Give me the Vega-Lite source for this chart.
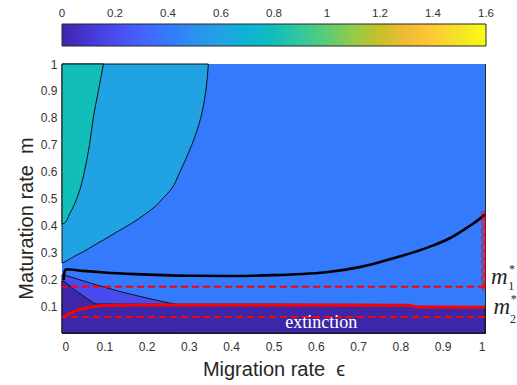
{
"$schema": "https://vega.github.io/schema/vega-lite/v6.json",
"width": 423, "height": 269,
"autosize": {"type": "none"},
"padding": {"left": 62, "top": 64, "right": 32, "bottom": 52},
"background": "white",
"config": {
  "view": {"stroke": "#262626", "strokeWidth": 1},
  "axis": {"domainColor": "#262626", "domainWidth": 1, "tickColor": "#262626", "tickWidth": 1, "tickSize": -4,
           "labelColor": "#333333", "labelFont": "Liberation Sans", "labelFontSize": 12,
           "titleFont": "Liberation Sans", "titleFontSize": 20, "titleFontWeight": "normal", "titleColor": "#262626", "grid": false}
},
"resolve": {"axis": {"x": "independent", "y": "independent"}},
"layer": [
  {
    "data": {"values": [{"x": 0, "x2": 1, "y": 0, "y2": 1, "level": 0.4}]},
    "mark": {"type": "rect"},
    "encoding": {
      "x": {"field": "x", "type": "quantitative", "scale": {"domain": [0, 1], "nice": false, "zero": false},
            "axis": {"orient": "bottom", "values": [0, 0.1, 0.2, 0.3, 0.4, 0.5, 0.6, 0.7, 0.8, 0.9, 1], "format": "~g",
                     "title": "Migration rate\u00a0 ϵ", "labelPadding": 12, "titlePadding": 7}},
      "x2": {"field": "x2"},
      "y": {"field": "y", "type": "quantitative", "scale": {"domain": [0, 1], "nice": false, "zero": false},
            "axis": {"orient": "left", "values": [0.1, 0.2, 0.3, 0.4, 0.5, 0.6, 0.7, 0.8, 0.9, 1], "format": "~g",
                     "title": "Maturation rate\u00a0 m", "labelPadding": 9, "titlePadding": 4, "titleY": 154}},
      "y2": {"field": "y2"},
      "color": {"field": "level", "type": "quantitative",
                "scale": {"type": "linear", "interpolate": "rgb",
                          "domain": [0, 0.1, 0.2, 0.3, 0.4, 0.5, 0.6, 0.7, 0.8, 0.9, 1, 1.1, 1.2, 1.3, 1.4, 1.5, 1.6],
                          "range": ["#3E26A8", "#4537D5", "#484CEF", "#4562FC", "#347AFD", "#2C90F0", "#21A3E3", "#0CB3D3", "#12BEB9", "#34C79C", "#5CCC76", "#94CA4A", "#C8C129", "#F1BA37", "#FECA33", "#F5E327", "#F9FB15"]},
                "legend": {"orient": "none", "legendX": 0, "legendY": -40, "direction": "horizontal",
                           "gradientLength": 424, "gradientThickness": 22, "title": null,
                           "values": [0, 0.2, 0.4, 0.6, 0.8, 1, 1.2, 1.4, 1.6], "format": "~g",
                           "labelFont": "Liberation Sans", "labelFontSize": 11.5, "labelColor": "#333333",
                           "labelOffset": -38, "labelOverlap": false,
                           "gradientStrokeColor": "#262626", "gradientStrokeWidth": 1,
                           "encode": {"labels": {"update": {"align": {"value": "center"}}}}}}
    }
  },
  {
    "data": {"values": [
      {"y": 0.26, "x": 0}, {"y": 0.265, "x": 0.007}, {"y": 0.283, "x": 0.027}, {"y": 0.302, "x": 0.05},
      {"y": 0.325, "x": 0.075}, {"y": 0.346, "x": 0.098}, {"y": 0.376, "x": 0.13}, {"y": 0.408, "x": 0.165},
      {"y": 0.44, "x": 0.195}, {"y": 0.47, "x": 0.22}, {"y": 0.5, "x": 0.238}, {"y": 0.532, "x": 0.257},
      {"y": 0.6, "x": 0.279}, {"y": 0.7, "x": 0.307}, {"y": 0.8, "x": 0.328}, {"y": 0.9, "x": 0.34}, {"y": 1, "x": 0.346}
    ]},
    "mark": {"type": "area", "orient": "horizontal", "interpolate": "monotone", "stroke": "#111111", "strokeWidth": 1},
    "encoding": {
      "y": {"field": "y", "type": "quantitative", "scale": {"domain": [0, 1], "nice": false, "zero": false}, "axis": null},
      "x": {"field": "x", "type": "quantitative", "scale": {"domain": [0, 1], "nice": false, "zero": false}, "axis": null, "stack": null},
      "color": {"datum": 0.6, "type": "quantitative"}
    }
  },
  {
    "data": {"values": [
      {"y": 0.405, "x": 0}, {"y": 0.41, "x": 0.007}, {"y": 0.44, "x": 0.017}, {"y": 0.47, "x": 0.027},
      {"y": 0.5, "x": 0.035}, {"y": 0.536, "x": 0.043}, {"y": 0.6, "x": 0.053}, {"y": 0.7, "x": 0.065},
      {"y": 0.8, "x": 0.074}, {"y": 0.9, "x": 0.086}, {"y": 1, "x": 0.098}
    ]},
    "mark": {"type": "area", "orient": "horizontal", "interpolate": "monotone", "stroke": "#111111", "strokeWidth": 1},
    "encoding": {
      "y": {"field": "y", "type": "quantitative", "scale": {"domain": [0, 1], "nice": false, "zero": false}, "axis": null},
      "x": {"field": "x", "type": "quantitative", "scale": {"domain": [0, 1], "nice": false, "zero": false}, "axis": null, "stack": null},
      "color": {"datum": 0.8, "type": "quantitative"}
    }
  },
  {
    "data": {"values": [
      {"x": 0, "y": 0.217}, {"x": 0.007, "y": 0.215}, {"x": 0.07, "y": 0.184}, {"x": 0.137, "y": 0.154},
      {"x": 0.2, "y": 0.13}, {"x": 0.255, "y": 0.111}, {"x": 0.27, "y": 0.107}
    ]},
    "mark": {"type": "area", "orient": "vertical", "stroke": "#111111", "strokeWidth": 1},
    "encoding": {
      "x": {"field": "x", "type": "quantitative", "scale": {"domain": [0, 1], "nice": false, "zero": false}, "axis": null},
      "y": {"field": "y", "type": "quantitative", "scale": {"domain": [0, 1], "nice": false, "zero": false}, "axis": null, "stack": null},
      "color": {"datum": 0.2, "type": "quantitative"}
    }
  },
  {
    "data": {"values": [
      {"x": 0, "y": 0.193}, {"x": 0.007, "y": 0.19}, {"x": 0.03, "y": 0.16}, {"x": 0.06, "y": 0.127},
      {"x": 0.078, "y": 0.108}, {"x": 0.2, "y": 0.107}, {"x": 0.5, "y": 0.107}, {"x": 0.82, "y": 0.106},
      {"x": 0.83, "y": 0.099}, {"x": 1, "y": 0.098}
    ]},
    "mark": {"type": "area", "orient": "vertical", "stroke": "#111111", "strokeWidth": 1},
    "encoding": {
      "x": {"field": "x", "type": "quantitative", "scale": {"domain": [0, 1], "nice": false, "zero": false}, "axis": null},
      "y": {"field": "y", "type": "quantitative", "scale": {"domain": [0, 1], "nice": false, "zero": false}, "axis": null, "stack": null},
      "color": {"datum": 0, "type": "quantitative"}
    }
  },
  {
    "data": {"values": [
      {"x": 0.004, "y": 0.197}, {"x": 0.006, "y": 0.228}, {"x": 0.01, "y": 0.237}, {"x": 0.05, "y": 0.231},
      {"x": 0.1, "y": 0.225}, {"x": 0.173, "y": 0.219}, {"x": 0.3, "y": 0.213}, {"x": 0.4, "y": 0.212},
      {"x": 0.5, "y": 0.215}, {"x": 0.634, "y": 0.228}, {"x": 0.7, "y": 0.244}, {"x": 0.752, "y": 0.264},
      {"x": 0.8, "y": 0.285}, {"x": 0.87, "y": 0.321}, {"x": 0.92, "y": 0.355}, {"x": 0.949, "y": 0.383},
      {"x": 0.975, "y": 0.41}, {"x": 1, "y": 0.44}
    ]},
    "mark": {"type": "line", "color": "#000000", "strokeWidth": 2.6, "interpolate": "monotone"},
    "encoding": {
      "x": {"field": "x", "type": "quantitative", "scale": {"domain": [0, 1], "nice": false, "zero": false}, "axis": null},
      "y": {"field": "y", "type": "quantitative", "scale": {"domain": [0, 1], "nice": false, "zero": false}, "axis": null}
    }
  },
  {
    "data": {"values": [{"y": 0.172}, {"y": 0.0595}]},
    "mark": {"type": "rule", "color": "#ff0000", "strokeWidth": 2, "strokeDash": [7, 4]},
    "encoding": {
      "y": {"field": "y", "type": "quantitative", "scale": {"domain": [0, 1], "nice": false, "zero": false}, "axis": null}
    }
  },
  {
    "data": {"values": [
      {"x": 0.005, "y": 0.058}, {"x": 0.015, "y": 0.07}, {"x": 0.03, "y": 0.081}, {"x": 0.054, "y": 0.092},
      {"x": 0.086, "y": 0.1}, {"x": 0.12, "y": 0.103}, {"x": 0.2, "y": 0.104}, {"x": 0.5, "y": 0.104},
      {"x": 0.82, "y": 0.103}, {"x": 0.84, "y": 0.097}, {"x": 1, "y": 0.096}
    ]},
    "mark": {"type": "line", "color": "#ff0000", "strokeWidth": 3, "interpolate": "monotone"},
    "encoding": {
      "x": {"field": "x", "type": "quantitative", "scale": {"domain": [0, 1], "nice": false, "zero": false}, "axis": null},
      "y": {"field": "y", "type": "quantitative", "scale": {"domain": [0, 1], "nice": false, "zero": false}, "axis": null}
    }
  },
  {
    "data": {"values": [{"x": 1, "y": 0.172, "y2": 0.439}]},
    "mark": {"type": "rule", "color": "#ff0000", "strokeWidth": 1.2},
    "encoding": {
      "x": {"field": "x", "type": "quantitative", "scale": {"domain": [0, 1], "nice": false, "zero": false}, "axis": null},
      "y": {"field": "y", "type": "quantitative", "scale": {"domain": [0, 1], "nice": false, "zero": false}, "axis": null},
      "y2": {"field": "y2"}
    }
  },
  {
    "data": {"values": [
      {"x": 1, "y": 0.172}, {"x": 1, "y": 0.202}, {"x": 1, "y": 0.232}, {"x": 1, "y": 0.262}, {"x": 1, "y": 0.291},
      {"x": 1, "y": 0.321}, {"x": 1, "y": 0.351}, {"x": 1, "y": 0.38}, {"x": 1, "y": 0.41}, {"x": 1, "y": 0.439}
    ]},
    "mark": {"type": "point", "shape": "circle", "filled": false, "color": "#ff0000", "size": 45, "strokeWidth": 1.5, "clip": true},
    "encoding": {
      "x": {"field": "x", "type": "quantitative", "scale": {"domain": [0, 1], "nice": false, "zero": false}, "axis": null},
      "y": {"field": "y", "type": "quantitative", "scale": {"domain": [0, 1], "nice": false, "zero": false}, "axis": null}
    }
  },
  {
    "data": {"values": [{"x": 0.613, "y": 0.02, "label": "extinction"}]},
    "mark": {"type": "text", "font": "Liberation Serif", "fontSize": 18, "color": "#ffffff", "align": "center", "baseline": "alphabetic"},
    "encoding": {
      "x": {"field": "x", "type": "quantitative", "scale": {"domain": [0, 1], "nice": false, "zero": false}, "axis": null},
      "y": {"field": "y", "type": "quantitative", "scale": {"domain": [0, 1], "nice": false, "zero": false}, "axis": null},
      "text": {"field": "label"}
    }
  },
  {
    "data": {"values": [{"x": 1.014, "y": 0.182, "t": "m"}, {"x": 1.02, "y": 0.071, "t": "m"}]},
    "mark": {"type": "text", "font": "Liberation Serif", "fontStyle": "italic", "fontSize": 23, "color": "#262626", "align": "left", "baseline": "alphabetic"},
    "encoding": {
      "x": {"field": "x", "type": "quantitative", "scale": {"domain": [0, 1], "nice": false, "zero": false}, "axis": null},
      "y": {"field": "y", "type": "quantitative", "scale": {"domain": [0, 1], "nice": false, "zero": false}, "axis": null},
      "text": {"field": "t"}
    }
  },
  {
    "data": {"values": [{"x": 1.055, "y": 0.16, "t": "1"}, {"x": 1.057, "y": 0.222, "t": "*"}, {"x": 1.061, "y": 0.11, "t": "*"}, {"x": 1.059, "y": 0.038, "t": "2"}]},
    "mark": {"type": "text", "font": "Liberation Serif", "fontSize": 12, "color": "#262626", "align": "left", "baseline": "alphabetic"},
    "encoding": {
      "x": {"field": "x", "type": "quantitative", "scale": {"domain": [0, 1], "nice": false, "zero": false}, "axis": null},
      "y": {"field": "y", "type": "quantitative", "scale": {"domain": [0, 1], "nice": false, "zero": false}, "axis": null},
      "text": {"field": "t"}
    }
  },
  {
    "data": {"values": [{"x": 0, "y": 0}]},
    "mark": {"type": "point", "opacity": 0},
    "encoding": {
      "x": {"field": "x", "type": "quantitative", "scale": {"domain": [0, 1], "nice": false, "zero": false},
            "axis": {"orient": "top", "values": [0, 0.1, 0.2, 0.3, 0.4, 0.5, 0.6, 0.7, 0.8, 0.9, 1], "labels": false, "title": null}},
      "y": {"field": "y", "type": "quantitative", "scale": {"domain": [0, 1], "nice": false, "zero": false},
            "axis": {"orient": "right", "values": [0.1, 0.2, 0.3, 0.4, 0.5, 0.6, 0.7, 0.8, 0.9, 1], "labels": false, "title": null}}
    }
  }
]
}
